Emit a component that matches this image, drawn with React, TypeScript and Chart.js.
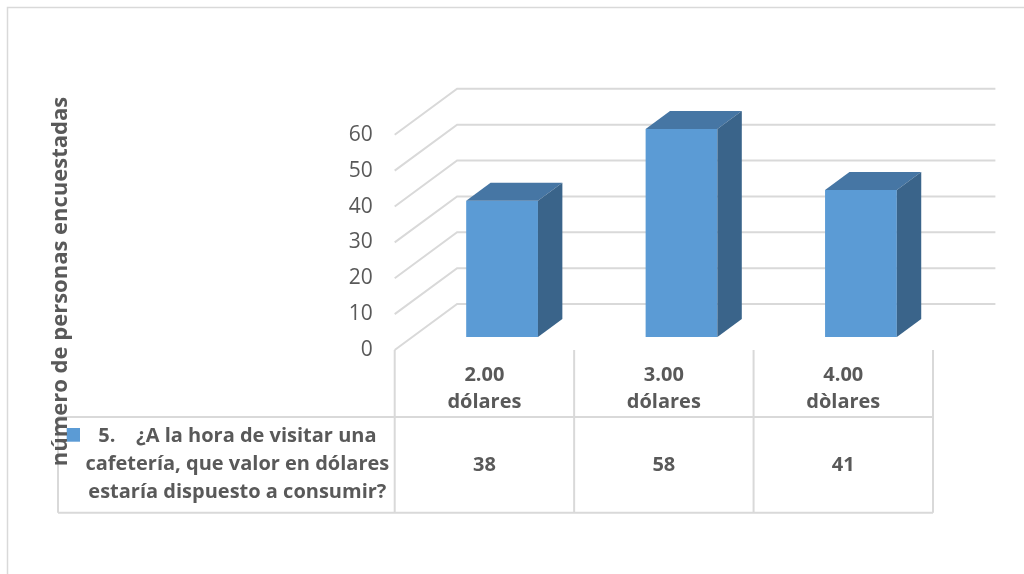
import React, { useEffect, useRef } from "react";
import { Chart, registerables } from "chart.js";

Chart.register(...registerables);

// ---- data ----
const categories: string[][] = [
  ["2.00", "dólares"],
  ["3.00", "dólares"],
  ["4.00", "dòlares"],
];
const values: number[] = [38, 58, 41];
const seriesLabelLines: string[] = [
  "5.    ¿A la hora de visitar una",
  "cafetería, que valor en dólares",
  "estaría dispuesto a consumir?",
];
const yMin = 0;
const yMax = 60;
const yStep = 10;
const yTitle = "número de personas encuestadas";

// ---- style ----
const FRONT = "#5b9bd5";
const TOP = "#4676a4";
const SIDE = "#3a648a";
const GRID = "#d9d9d9";
const TEXT = "#595959";
const FONT = "'Open Sans', sans-serif";

// 3D depth geometry (pixels)
const DEPTH_DX = 62.4;
const DEPTH_DY = -46;
const BAR_FRONT = 0.283; // fraction of depth where bar front face sits
const BAR_BACK = 0.674; // fraction of depth where bar back face sits

const TABLE_LEFT = 58;
const ROW_SPLIT = 417;
const TABLE_BOTTOM = 512.7;

const threeDPlugin = {
  id: "threeD",
  beforeDraw(chart: any) {
    const ctx = chart.ctx;
    ctx.save();
    ctx.strokeStyle = GRID;
    ctx.lineWidth = 1.5;
    ctx.beginPath();
    ctx.moveTo(7.5, 574);
    ctx.lineTo(7.5, 7.5);
    ctx.lineTo(1024, 7.5);
    ctx.stroke();
    ctx.restore();
  },
  beforeDatasetsDraw(chart: any) {
    const ctx = chart.ctx;
    const area = chart.chartArea;
    const ys = chart.scales.y;
    ctx.save();
    ctx.strokeStyle = GRID;
    ctx.lineWidth = 2;
    ys.ticks.forEach((t: any) => {
      const y = ys.getPixelForValue(t.value);
      ctx.beginPath();
      ctx.moveTo(area.left, y);
      ctx.lineTo(area.left + DEPTH_DX, y + DEPTH_DY);
      ctx.lineTo(area.right + DEPTH_DX, y + DEPTH_DY);
      ctx.stroke();
    });
    ctx.restore();
    // shift the bar plane into the depth
    ctx.save();
    ctx.translate(DEPTH_DX * BAR_FRONT, DEPTH_DY * BAR_FRONT);
  },
  afterDatasetsDraw(chart: any) {
    const ctx = chart.ctx;
    const meta = chart.getDatasetMeta(0);
    const dx = DEPTH_DX * (BAR_BACK - BAR_FRONT);
    const dy = DEPTH_DY * (BAR_BACK - BAR_FRONT);
    meta.data.forEach((bar: any) => {
      const p = bar.getProps(["x", "y", "base", "width"], true);
      const l = p.x - p.width / 2;
      const r = p.x + p.width / 2;
      const top = Math.min(p.y, p.base);
      const bottom = Math.max(p.y, p.base);
      // top face
      ctx.fillStyle = TOP;
      ctx.beginPath();
      ctx.moveTo(l, top);
      ctx.lineTo(r, top);
      ctx.lineTo(r + dx, top + dy);
      ctx.lineTo(l + dx, top + dy);
      ctx.closePath();
      ctx.fill();
      // side face
      ctx.fillStyle = SIDE;
      ctx.beginPath();
      ctx.moveTo(r, top);
      ctx.lineTo(r + dx, top + dy);
      ctx.lineTo(r + dx, bottom + dy);
      ctx.lineTo(r, bottom);
      ctx.closePath();
      ctx.fill();
    });
    ctx.restore();
  },
  afterDraw(chart: any) {
    const ctx = chart.ctx;
    const area = chart.chartArea;
    const xs = chart.scales.x;
    const n = chart.data.labels.length;
    const w = n > 1 ? xs.getPixelForValue(1) - xs.getPixelForValue(0) : area.right - area.left;
    ctx.save();
    ctx.strokeStyle = GRID;
    ctx.lineWidth = 2;
    // vertical table lines
    for (let i = 0; i <= n; i++) {
      const x = xs.getPixelForValue(0) - w / 2 + i * w;
      ctx.beginPath();
      ctx.moveTo(x, area.bottom);
      ctx.lineTo(x, TABLE_BOTTOM);
      ctx.stroke();
    }
    // legend cell left line
    ctx.beginPath();
    ctx.moveTo(TABLE_LEFT, ROW_SPLIT);
    ctx.lineTo(TABLE_LEFT, TABLE_BOTTOM);
    ctx.stroke();
    // horizontal lines
    [ROW_SPLIT, TABLE_BOTTOM].forEach((y) => {
      ctx.beginPath();
      ctx.moveTo(TABLE_LEFT, y);
      ctx.lineTo(area.right, y);
      ctx.stroke();
    });

    // values row
    ctx.fillStyle = TEXT;
    ctx.font = `bold 20px ${FONT}`;
    ctx.textAlign = "center";
    ctx.textBaseline = "middle";
    const data = chart.data.datasets[0].data as number[];
    data.forEach((v, i) => {
      ctx.fillText(String(v), xs.getPixelForValue(i), (ROW_SPLIT + TABLE_BOTTOM) / 2);
    });

    // legend key + text
    ctx.fillStyle = FRONT;
    ctx.fillRect(66.7, 428, 13.3, 13.7);
    ctx.fillStyle = TEXT;
    ctx.textBaseline = "alphabetic";
    const lines: string[] = chart.data.datasets[0].labelLines;
    const cx = (80 + area.left) / 2;
    lines.forEach((line, i) => {
      ctx.fillText(line, cx, 442 + i * 28);
    });

    // y axis title
    ctx.save();
    ctx.translate(61, 281.5);
    ctx.rotate(-Math.PI / 2);
    ctx.font = `bold 22px ${FONT}`;
    ctx.textAlign = "center";
    ctx.textBaseline = "middle";
    ctx.fillText(yTitle, 0, 0);
    ctx.restore();

    ctx.restore();
  },
};

export default function App() {
  const canvasRef = useRef<HTMLCanvasElement | null>(null);

  useEffect(() => {
    const canvas = canvasRef.current;
    if (!canvas) return;
    const chart = new Chart(canvas, {
      type: "bar",
      data: {
        labels: categories,
        datasets: [
          {
            label: seriesLabelLines.join(" "),
            labelLines: seriesLabelLines,
            data: values,
            backgroundColor: FRONT,
            borderWidth: 0,
            categoryPercentage: 1,
            barPercentage: 0.4,
            clip: false,
          } as any,
        ],
      },
      options: {
        responsive: false,
        animation: false,
        layout: { padding: { left: 40, right: 91, top: 134.8, bottom: 0 } },
        plugins: {
          legend: { display: false },
          tooltip: { enabled: false },
          title: { display: false },
        },
        scales: {
          x: {
            grid: { display: false, drawTicks: false },
            border: { display: false },
            ticks: {
              color: TEXT,
              padding: 11.5,
              maxRotation: 0,
              autoSkip: false,
              font: { family: FONT, size: 20, weight: "bold", lineHeight: 1.35 },
            },
            afterFit: (scale: any) => {
              scale.height = 224;
            },
          },
          y: {
            min: yMin,
            max: yMax,
            grid: { display: false, drawTicks: false },
            border: { display: false },
            ticks: {
              stepSize: yStep,
              color: TEXT,
              padding: 22,
              font: { family: FONT, size: 21 },
            },
            afterFit: (scale: any) => {
              scale.width = 354.7;
            },
          },
        },
      } as any,
      plugins: [threeDPlugin],
    });
    return () => chart.destroy();
  }, []);

  return (
    <div style={{ position: "fixed", left: 0, top: 0, width: 1024, height: 574, background: "#fff" }}>
      <canvas ref={canvasRef} width={1024} height={574} style={{ display: "block" }} />
    </div>
  );
}
